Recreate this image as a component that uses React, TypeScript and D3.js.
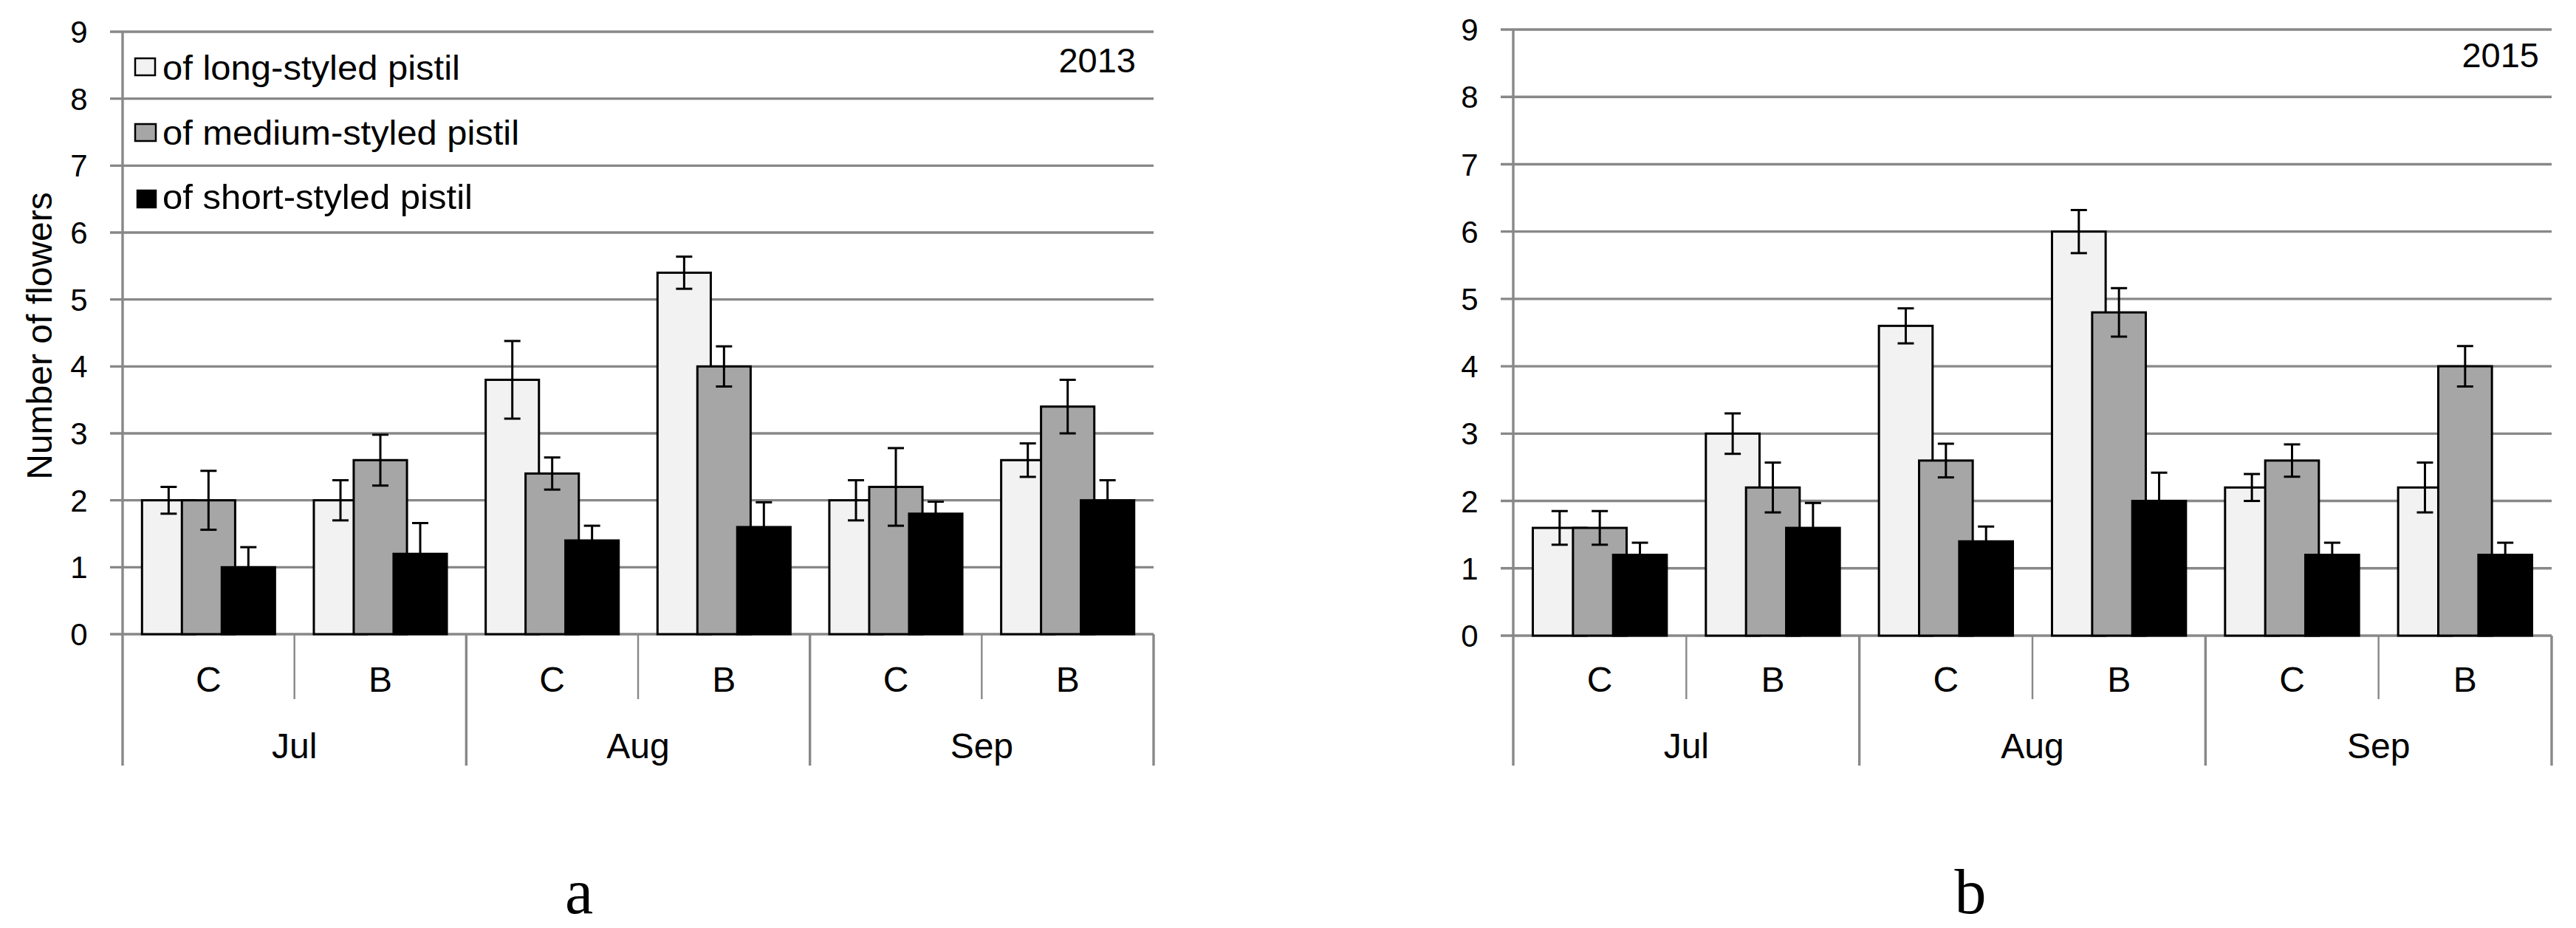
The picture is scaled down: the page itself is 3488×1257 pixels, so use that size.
import { useRef, useEffect } from "react"
import * as d3 from "d3"

// categories
const months = ["Jul", "Aug", "Sep"]
const treatments = ["C", "B"]
const seriesNames = ["of long-styled pistil", "of medium-styled pistil", "of short-styled pistil"]
const seriesColors = ["#f2f2f2", "#a6a6a6", "#000000"]
const yTicks = [0, 1, 2, 3, 4, 5, 6, 7, 8, 9]

// 2013 (panel a)
const long2013 = [2.0, 2.0, 3.8, 5.4, 2.0, 2.6]
const longErr2013 = [0.2, 0.3, 0.58, 0.24, 0.3, 0.25]
const medium2013 = [2.0, 2.6, 2.4, 4.0, 2.2, 3.4]
const mediumErr2013 = [0.44, 0.38, 0.24, 0.3, 0.58, 0.4]
const short2013 = [1.0, 1.2, 1.4, 1.6, 1.8, 2.0]
const shortErr2013 = [0.3, 0.46, 0.22, 0.37, 0.18, 0.3]

// 2015 (panel b)
const long2015 = [1.6, 3.0, 4.6, 6.0, 2.2, 2.2]
const longErr2015 = [0.25, 0.3, 0.26, 0.32, 0.2, 0.37]
const medium2015 = [1.6, 2.2, 2.6, 4.8, 2.6, 4.0]
const mediumErr2015 = [0.25, 0.37, 0.25, 0.36, 0.24, 0.3]
const short2015 = [1.2, 1.6, 1.4, 2.0, 1.2, 1.2]
const shortErr2015 = [0.18, 0.37, 0.22, 0.42, 0.18, 0.18]

const FONT = "'Liberation Sans', Arial, sans-serif"
const GRID = "#888888"

interface PanelSpec {
  left: number
  right: number
  top: number
  bottom: number
  year: string
  yearX: number
  yearY: number
  letter: string
  letterX: number
  values: number[][]
  errors: number[][]
  legend: boolean
  yTitle: boolean
}

function drawPanel(root: d3.Selection<SVGGElement, unknown, null, undefined>, p: PanelSpec) {
  const cats = months.flatMap((m) => treatments.map((t) => `${m}-${t}`))
  const x = d3.scaleBand().domain(cats).range([p.left, p.right]).padding(0)
  const y = d3.scaleLinear().domain([0, 9]).range([p.bottom, p.top])
  const bw = x.bandwidth()
  const barW = bw * 0.31
  const step = bw * 0.232
  const offset = (bw - (2 * step + barW)) / 2
  const axisBottom = 1037
  const innerBottom = 947

  const g = root.append("g")

  // gridlines
  g.selectAll(".grid")
    .data(yTicks)
    .enter()
    .append("line")
    .attr("x1", p.left - 17)
    .attr("x2", p.right)
    .attr("y1", (d) => y(d))
    .attr("y2", (d) => y(d))
    .attr("stroke", GRID)
    .attr("stroke-width", 3.4)

  // y tick labels
  g.selectAll(".ytick")
    .data(yTicks)
    .enter()
    .append("text")
    .attr("x", p.left - 59)
    .attr("y", (d) => y(d))
    .attr("dy", "0.36em")
    .attr("text-anchor", "middle")
    .style("font-family", FONT)
    .style("font-size", "42px")
    .text((d) => d)

  // vertical axis + category separators
  g.append("line")
    .attr("x1", p.left).attr("x2", p.left)
    .attr("y1", p.top).attr("y2", axisBottom)
    .attr("stroke", GRID).attr("stroke-width", 3.4)

  cats.forEach((c, i) => {
    const xr = (x(c) || 0) + bw
    const isMonthEnd = i % 2 === 1
    g.append("line")
      .attr("x1", xr).attr("x2", xr)
      .attr("y1", p.bottom).attr("y2", isMonthEnd ? axisBottom : innerBottom)
      .attr("stroke", GRID).attr("stroke-width", isMonthEnd ? 3.4 : 2.4)
  })

  // category labels
  cats.forEach((c, i) => {
    g.append("text")
      .attr("x", (x(c) || 0) + bw / 2)
      .attr("y", 937)
      .attr("text-anchor", "middle")
      .style("font-family", FONT)
      .style("font-size", "48px")
      .text(treatments[i % 2])
  })
  months.forEach((m, i) => {
    g.append("text")
      .attr("x", (x(cats[i * 2]) || 0) + bw)
      .attr("y", 1027)
      .attr("text-anchor", "middle")
      .style("font-family", FONT)
      .style("font-size", "48px")
      .text(m)
  })

  // bars, drawn series by series so later series overlap earlier ones
  p.values.forEach((vals, s) => {
    g.selectAll(`.bar${s}`)
      .data(vals)
      .enter()
      .append("rect")
      .attr("x", (_, i) => (x(cats[i]) || 0) + offset + s * step)
      .attr("y", (d) => y(d))
      .attr("width", barW)
      .attr("height", (d) => y(0) - y(d))
      .attr("fill", seriesColors[s])
      .attr("stroke", "#000")
      .attr("stroke-width", 3)
  })

  // error bars
  p.values.forEach((vals, s) => {
    vals.forEach((v, i) => {
      const cx = (x(cats[i]) || 0) + offset + s * step + barW / 2
      const e = p.errors[s][i]
      const eg = g.append("g").attr("stroke", "#000").attr("stroke-width", 3)
      eg.append("line").attr("x1", cx).attr("x2", cx).attr("y1", y(v + e)).attr("y2", y(v - e))
      eg.append("line").attr("x1", cx - 11).attr("x2", cx + 11).attr("y1", y(v + e)).attr("y2", y(v + e))
      eg.append("line").attr("x1", cx - 11).attr("x2", cx + 11).attr("y1", y(v - e)).attr("y2", y(v - e))
    })
  })

  // year label
  g.append("text")
    .attr("x", p.yearX)
    .attr("y", p.yearY)
    .attr("text-anchor", "end")
    .style("font-family", FONT)
    .style("font-size", "47px")
    .text(p.year)

  if (p.yTitle) {
    g.append("text")
      .attr("transform", `translate(53,455) rotate(-90)`)
      .attr("dy", "0.35em")
      .attr("text-anchor", "middle")
      .style("font-family", FONT)
      .style("font-size", "48px")
      .text("Number of flowers")
  }

  if (p.legend) {
    const keyX = [183, 183, 186]
    const keyW = [27, 28, 25]
    const keyY = [79, 168, 258]
    const textY = [108, 196, 283]
    const textW = [403, 483, 420]
    seriesNames.forEach((name, s) => {
      g.append("rect")
        .attr("x", keyX[s]).attr("y", keyY[s])
        .attr("width", keyW[s]).attr("height", 23)
        .attr("fill", seriesColors[s])
        .attr("stroke", "#000").attr("stroke-width", 2.5)
      g.append("text")
        .attr("x", 220)
        .attr("y", textY[s])
        .attr("textLength", textW[s])
        .attr("lengthAdjust", "spacingAndGlyphs")
        .style("font-family", FONT)
        .style("font-size", "47px")
        .text(name)
    })
  }

  // panel letter
  g.append("text")
    .attr("x", p.letterX)
    .attr("y", 1237)
    .attr("text-anchor", "middle")
    .style("font-family", "'Liberation Serif', 'Times New Roman', serif")
    .style("font-size", "86px")
    .text(p.letter)
}

export default function App() {
  const svgRef = useRef<SVGSVGElement>(null)

  useEffect(() => {
    document.body.style.margin = "0"
    if (!svgRef.current) return
    d3.select(svgRef.current).selectAll("*").remove()
    const root = d3.select(svgRef.current).append("g") as d3.Selection<SVGGElement, unknown, null, undefined>

    drawPanel(root, {
      left: 166, right: 1562, top: 43, bottom: 859,
      year: "2013", yearX: 1538, yearY: 98,
      letter: "a", letterX: 784,
      values: [long2013, medium2013, short2013],
      errors: [longErr2013, mediumErr2013, shortErr2013],
      legend: true, yTitle: true,
    })
    drawPanel(root, {
      left: 2049, right: 3455, top: 40, bottom: 861,
      year: "2015", yearX: 3438, yearY: 91,
      letter: "b", letterX: 2668,
      values: [long2015, medium2015, short2015],
      errors: [longErr2015, mediumErr2015, shortErr2015],
      legend: false, yTitle: false,
    })
  }, [])

  return (
    <svg ref={svgRef} width={3488} height={1257} style={{ display: "block", background: "#fff" }} />
  )
}
